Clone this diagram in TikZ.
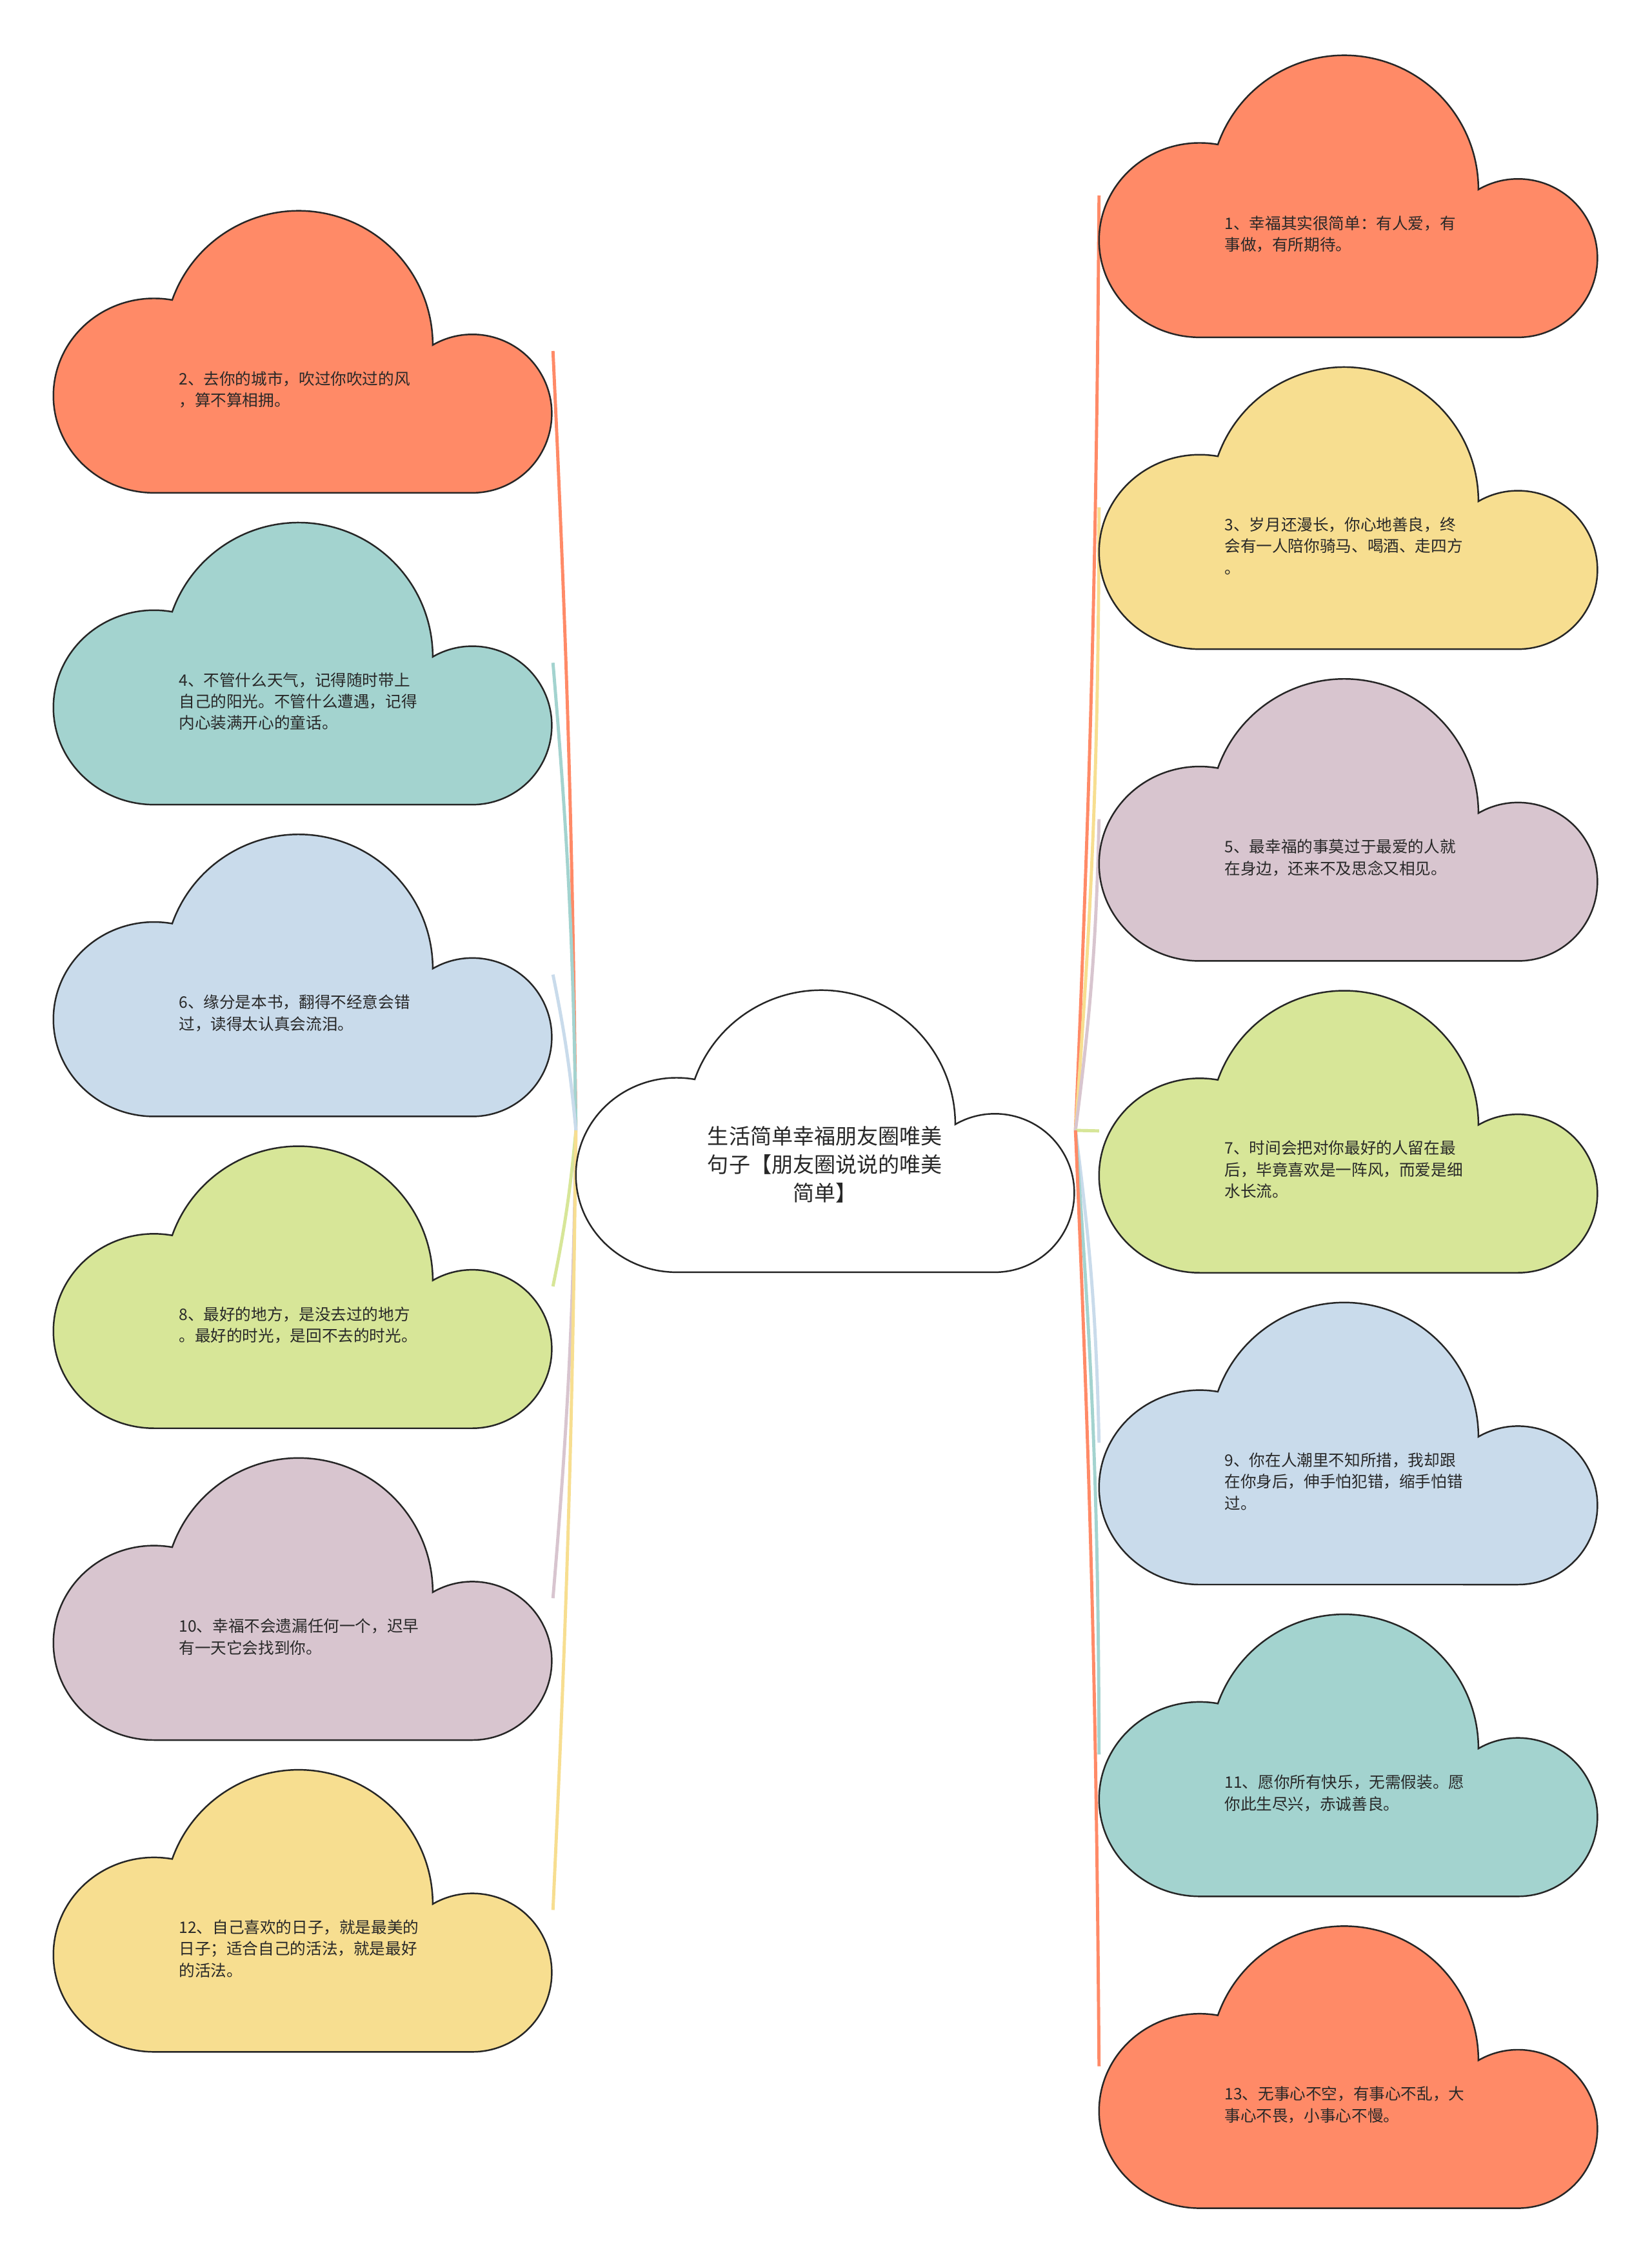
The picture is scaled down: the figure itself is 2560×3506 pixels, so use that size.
\documentclass[tikz,border=0pt]{standalone}
\usepackage{fontspec}
\setmainfont{Noto Sans CJK SC}
\usetikzlibrary{calc,positioning}
\definecolor{csalmon}{RGB}{255,138,103}
\definecolor{cyellow}{RGB}{247,222,144}
\definecolor{cteal}{RGB}{163,211,207}
\definecolor{cblue}{RGB}{201,219,235}
\definecolor{cmauve}{RGB}{216,197,207}
\definecolor{cgreen}{RGB}{215,230,152}
\definecolor{ink}{RGB}{40,40,40}
\tikzset{
  cloudbox/.style={minimum width=7.74cm,minimum height=4.40cm,inner sep=0pt,outer sep=0pt},
  outline/.style={draw=black!85,line width=0.7pt},
  msg/.style={anchor=west,inner sep=0pt,text width=4cm,align=left,text=ink,font=\fontsize{7}{9.5}\selectfont},
  title/.style={inner sep=0pt,align=center,text=ink,font=\fontsize{9.4}{12.5}\selectfont},
  link/.style={line width=1.4pt}
}
\newcommand{\cloudat}[2]{%
  \draw[outline,fill=#2] ($(#1.north west)+(156,-440)$)
    arc[start angle=270,end angle=79.6,x radius=156,y radius=150.7]
    arc[start angle=160.4,end angle=0,radius=208]
    arc[start angle=120,end angle=-90,x radius=123,y radius=122.8] -- cycle;}

\begin{document}
\begin{tikzpicture}[x=0.01cm,y=0.01cm]
  \useasboundingbox (0,0) rectangle (2560,-3506);
  \fill[white] (0,0) rectangle (2560,-3506);
  % centre
  \node[cloudbox] (c0) at (1280,-1752) {};
  % right column
  \node[cloudbox] (c1) at (2091,-303) {};
  \node[cloudbox,below=0.43cm of c1] (c3) {};
  \node[cloudbox,below=0.43cm of c3] (c5) {};
  \node[cloudbox,below=0.43cm of c5] (c7) {};
  \node[cloudbox,below=0.43cm of c7] (c9) {};
  \node[cloudbox,below=0.43cm of c9] (c11) {};
  \node[cloudbox,below=0.43cm of c11] (c13) {};
  % left column
  \node[cloudbox] (c2) at (470,-544) {};
  \node[cloudbox,below=0.43cm of c2] (c4) {};
  \node[cloudbox,below=0.43cm of c4] (c6) {};
  \node[cloudbox,below=0.43cm of c6] (c8) {};
  \node[cloudbox,below=0.43cm of c8] (c10) {};
  \node[cloudbox,below=0.43cm of c10] (c12) {};
  % links
  \draw[link,csalmon] (c0.west) to[bend right=1] (c2.east);
  \draw[link,cteal] (c0.west) to[bend right=2] (c4.east);
  \draw[link,cblue] (c0.west) to[bend right=3] (c6.east);
  \draw[link,cgreen] (c0.west) to[bend left=3] (c8.east);
  \draw[link,cmauve] (c0.west) to[bend left=2] (c10.east);
  \draw[link,cyellow] (c0.west) to[bend left=1] (c12.east);
  \draw[link,csalmon] (c0.east) to[bend right=1] (c1.west);
  \draw[link,cyellow] (c0.east) to[bend right=2] (c3.west);
  \draw[link,cmauve] (c0.east) to[bend right=3] (c5.west);
  \draw[link,cgreen] (c0.east) -- (c7.west);
  \draw[link,cblue] (c0.east) to[bend left=3] (c9.west);
  \draw[link,cteal] (c0.east) to[bend left=2] (c11.west);
  \draw[link,csalmon] (c0.east) to[bend left=1] (c13.west);
  % clouds
  \cloudat{c0}{white}
  \cloudat{c1}{csalmon}
  \cloudat{c2}{csalmon}
  \cloudat{c3}{cyellow}
  \cloudat{c4}{cteal}
  \cloudat{c5}{cmauve}
  \cloudat{c6}{cblue}
  \cloudat{c7}{cgreen}
  \cloudat{c8}{cgreen}
  \cloudat{c9}{cblue}
  \cloudat{c10}{cmauve}
  \cloudat{c11}{cteal}
  \cloudat{c12}{cyellow}
  \cloudat{c13}{csalmon}
  % texts
  \node[title] (t0) at ($(c0.north west)+(386,-273)$) {生活简单幸福朋友圈唯美\\句子【朋友圈说说的唯美\\简单】};
  \node[msg] (t1) at ($(c1.north west)+(194,-280)$) {1、幸福其实很简单：有人爱，有\\事做，有所期待。};
  \node[msg] (t2) at ($(c2.north west)+(194,-280)$) {2、去你的城市，吹过你吹过的风\\，算不算相拥。};
  \node[msg] (t3) at ($(c3.north west)+(194,-280)$) {3、岁月还漫长，你心地善良，终\\会有一人陪你骑马、喝酒、走四方\\。};
  \node[msg] (t4) at ($(c4.north west)+(194,-280)$) {4、不管什么天气，记得随时带上\\自己的阳光。不管什么遭遇，记得\\内心装满开心的童话。};
  \node[msg] (t5) at ($(c5.north west)+(194,-280)$) {5、最幸福的事莫过于最爱的人就\\在身边，还来不及思念又相见。};
  \node[msg] (t6) at ($(c6.north west)+(194,-280)$) {6、缘分是本书，翻得不经意会错\\过，读得太认真会流泪。};
  \node[msg] (t7) at ($(c7.north west)+(194,-280)$) {7、时间会把对你最好的人留在最\\后，毕竟喜欢是一阵风，而爱是细\\水长流。};
  \node[msg] (t8) at ($(c8.north west)+(194,-280)$) {8、最好的地方，是没去过的地方\\。最好的时光，是回不去的时光。};
  \node[msg] (t9) at ($(c9.north west)+(194,-280)$) {9、你在人潮里不知所措，我却跟\\在你身后，伸手怕犯错，缩手怕错\\过。};
  \node[msg] (t10) at ($(c10.north west)+(194,-280)$) {10、幸福不会遗漏任何一个，迟早\\有一天它会找到你。};
  \node[msg] (t11) at ($(c11.north west)+(194,-280)$) {11、愿你所有快乐，无需假装。愿\\你此生尽兴，赤诚善良。};
  \node[msg] (t12) at ($(c12.north west)+(194,-280)$) {12、自己喜欢的日子，就是最美的\\日子；适合自己的活法，就是最好\\的活法。};
  \node[msg] (t13) at ($(c13.north west)+(194,-280)$) {13、无事心不空，有事心不乱，大\\事心不畏，小事心不慢。};
\end{tikzpicture}
\end{document}
